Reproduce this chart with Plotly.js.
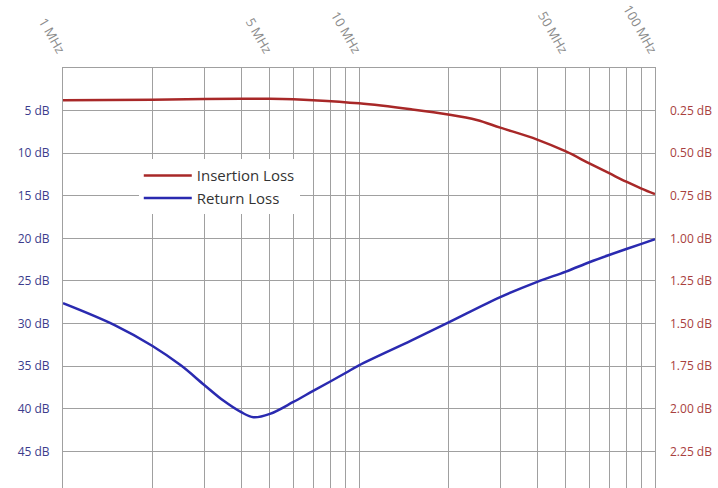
<!DOCTYPE html>
<html><head><meta charset="utf-8">
<script src="https://cdn.plot.ly/plotly-3.0.1.min.js"></script>
<style>html,body{margin:0;padding:0;background:#fff;}#chart{width:718px;height:488px;}</style>
</head><body><div id="chart"></div>
<script>
const ilFreq = [1, 2, 3, 4, 5, 6, 7, 10, 15, 20, 25, 30, 40, 50, 60, 70, 80, 90, 100];
const ilLoss = [3.8, 3.73, 3.64, 3.6, 3.62, 3.68, 3.78, 4.15, 4.85, 5.45, 6.1, 7.0, 8.4, 9.8, 11.2, 12.35, 13.35, 14.15, 14.8];
const rlFreq = [1, 1.5, 2, 2.5, 3, 3.5, 4, 4.4, 5, 6, 7, 8, 9, 10, 15, 20, 30, 40, 50, 60, 70, 80, 90, 100];
const rlLoss = [27.6, 30.2, 32.6, 34.9, 37.2, 39.1, 40.4, 41.0, 40.6, 39.2, 37.9, 36.8, 35.8, 34.9, 32.0, 29.9, 26.9, 25.1, 23.9, 22.8, 21.95, 21.25, 20.65, 20.1];
const xGrid = [1,2,3,4,5,6,7,8,9,10,20,30,40,50,60,70,80,90,100];
const xLabels = {1:'1 MHz',5:'5 MHz',10:'10 MHz',50:'50 MHz',100:'100 MHz'};
const leftTicks = [0,5,10,15,20,25,30,35,40,45,50];
const leftLabels = ['', '5 dB','10 dB','15 dB','20 dB','25 dB','30 dB','35 dB','40 dB','45 dB',''];
const rightTicks = [0.25,0.5,0.75,1.0,1.25,1.5,1.75,2.0,2.25];
const yMax = 49.3;

const traces = [
  {x: ilFreq, y: ilLoss, name: 'Insertion Loss', mode: 'lines', line: {color: '#a82828', width: 2.5, shape: 'spline', smoothing: 1}},
  {x: rlFreq, y: rlLoss, name: 'Return Loss', mode: 'lines', line: {color: '#2a2ab0', width: 2.5, shape: 'spline', smoothing: 1}},
  {x: [1], y: [null], yaxis: 'y2', showlegend: false, hoverinfo: 'skip', mode: 'lines'}
];
const layout = {
  width: 718, height: 488,
  margin: {l: 63, r: 63, t: 68, b: 0, pad: 0},
  paper_bgcolor: '#fff', plot_bgcolor: '#fff',
  font: {family: 'Open Sans, sans-serif', size: 12},
  xaxis: {
    type: 'log', range: [0, 2], side: 'top',
    tickmode: 'array', tickvals: xGrid, ticktext: xGrid.map(v => xLabels[v] || ''),
    tickangle: 60, tickfont: {color: '#8c8c8c', size: 13}, ticklabelstandoff: 4,
    showgrid: true, gridcolor: '#a0a0a0', gridwidth: 1,
    showline: true, linecolor: '#a0a0a0', mirror: true, zeroline: false, ticks: ''
  },
  yaxis: {
    range: [yMax, 0], tickmode: 'array', tickvals: leftTicks, ticktext: leftLabels,
    tickfont: {color: '#3c3c8c', size: 12}, ticklabelstandoff: 10,
    showgrid: true, gridcolor: '#a0a0a0', gridwidth: 1,
    showline: true, linecolor: '#a0a0a0', mirror: true, zeroline: false, ticks: ''
  },
  yaxis2: {
    overlaying: 'y', side: 'right', range: [yMax / 20, 0],
    tickmode: 'array', tickvals: rightTicks, ticktext: rightTicks.map(v => v.toFixed(2) + ' dB'),
    tickfont: {color: '#a84040', size: 12}, ticklabelstandoff: 14,
    showgrid: false, zeroline: false, showline: false, ticks: ''
  },
  legend: {
    x: 0.128, y: 0.783, xanchor: 'left', yanchor: 'top',
    bgcolor: '#ffffff', borderwidth: 0, itemwidth: 48,
    font: {family: 'Open Sans, sans-serif', size: 15, color: '#333'},
    tracegroupgap: 0
  },
  showlegend: true
};
Plotly.newPlot('chart', traces, layout, {staticPlot: true, displayModeBar: false});
</script></body></html>
